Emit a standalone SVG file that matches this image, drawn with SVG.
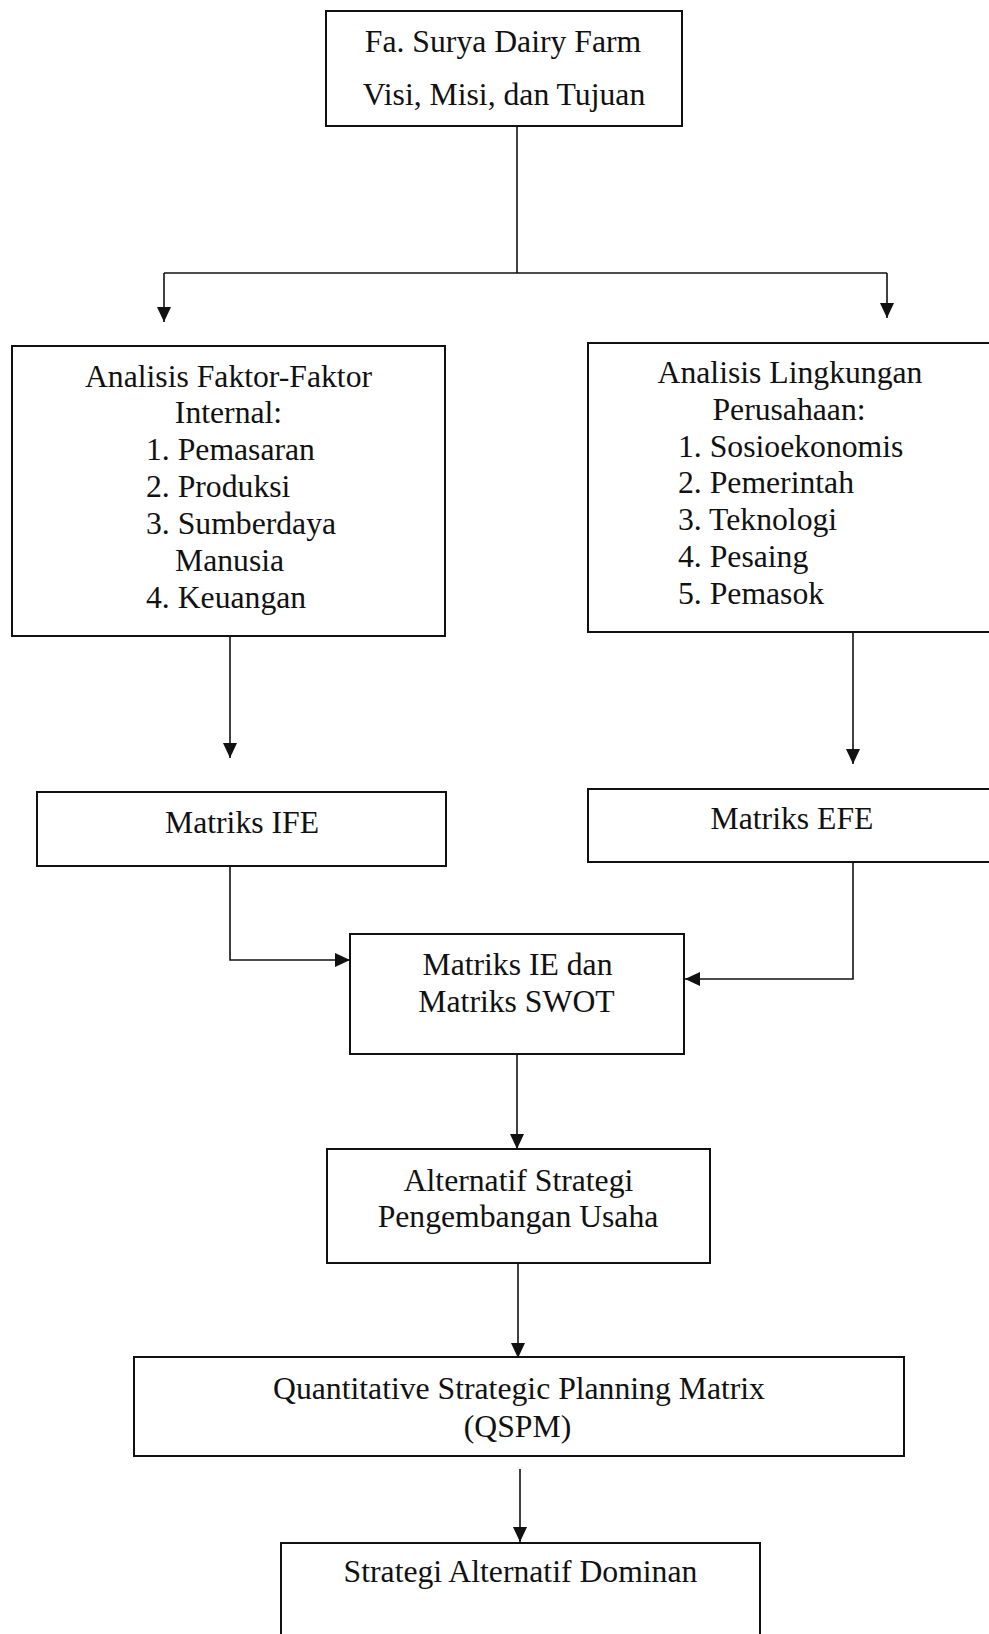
<svg xmlns="http://www.w3.org/2000/svg" width="989" height="1634" viewBox="0 0 989 1634">
<style>
.box{fill:#fff;stroke:#111;stroke-width:2}
.t{font-family:"Liberation Serif","Times New Roman",serif;font-size:31.7px;fill:#111}
.c{text-anchor:middle}
.ln{fill:none;stroke:#111;stroke-width:1.6}
</style>
<defs>
<marker id="ah" markerUnits="userSpaceOnUse" markerWidth="16" markerHeight="14" refX="15" refY="7" orient="auto">
<path d="M0,0 L15,7 L0,14 z" fill="#111"/>
</marker>
</defs>
<rect width="989" height="1634" fill="#fff"/>
<g id="connectors">
<path class="ln" d="M517,126 V273"/>
<path class="ln" d="M164,273 H887"/>
<path class="ln" d="M164,273 V322" marker-end="url(#ah)"/>
<path class="ln" d="M887,273 V318" marker-end="url(#ah)"/>
<path class="ln" d="M230,636 V758" marker-end="url(#ah)"/>
<path class="ln" d="M853,632 V764" marker-end="url(#ah)"/>
<path class="ln" d="M230,866 V960 H350" marker-end="url(#ah)"/>
<path class="ln" d="M853,862 V979 H685" marker-end="url(#ah)"/>
<path class="ln" d="M517,1054 V1149" marker-end="url(#ah)"/>
<path class="ln" d="M518,1263 V1358" marker-end="url(#ah)"/>
<path class="ln" d="M520,1469 V1542" marker-end="url(#ah)"/>
</g>
<g id="node-top">
<rect class="box" x="326" y="11" width="356" height="115"/>
<text class="t c" x="503" y="52">Fa. Surya Dairy Farm</text>
<text class="t c" x="504" y="105">Visi, Misi, dan Tujuan</text>
</g>
<g id="node-internal">
<rect class="box" x="12" y="346" width="433" height="290"/>
<text class="t c" x="228.5" y="387">Analisis Faktor-Faktor</text>
<text class="t c" x="228.5" y="423">Internal:</text>
<text class="t" x="146" y="460">1. Pemasaran</text>
<text class="t" x="146" y="497">2. Produksi</text>
<text class="t" x="146" y="534">3. Sumberdaya</text>
<text class="t" x="175" y="571">Manusia</text>
<text class="t" x="146" y="608">4. Keuangan</text>
</g>
<g id="node-eksternal">
<rect class="box" x="588" y="343" width="420" height="289"/>
<text class="t c" x="790" y="383">Analisis Lingkungan</text>
<text class="t c" x="789" y="420">Perusahaan:</text>
<text class="t" x="678" y="457">1. Sosioekonomis</text>
<text class="t" x="678" y="493">2. Pemerintah</text>
<text class="t" x="678" y="530">3. Teknologi</text>
<text class="t" x="678" y="567">4. Pesaing</text>
<text class="t" x="678" y="604">5. Pemasok</text>
</g>
<g id="node-ife">
<rect class="box" x="37" y="792" width="409" height="74"/>
<text class="t c" x="242" y="833">Matriks IFE</text>
</g>
<g id="node-efe">
<rect class="box" x="588" y="789" width="420" height="73"/>
<text class="t c" x="792" y="829">Matriks EFE</text>
</g>
<g id="node-ie-swot">
<rect class="box" x="350" y="934" width="334" height="120"/>
<text class="t c" x="517.5" y="975">Matriks IE dan</text>
<text class="t c" x="516.5" y="1012">Matriks SWOT</text>
</g>
<g id="node-alternatif">
<rect class="box" x="327" y="1149" width="383" height="114"/>
<text class="t c" x="518.5" y="1191">Alternatif Strategi</text>
<text class="t c" x="518" y="1227">Pengembangan Usaha</text>
</g>
<g id="node-qspm">
<rect class="box" x="134" y="1357" width="770" height="99"/>
<text class="t c" x="519" y="1399">Quantitative Strategic Planning Matrix</text>
<text class="t c" x="517.5" y="1437">(QSPM)</text>
</g>
<g id="node-dominan">
<rect class="box" x="281" y="1543" width="479" height="120"/>
<text class="t c" x="520.5" y="1582">Strategi Alternatif Dominan</text>
</g>
</svg>
